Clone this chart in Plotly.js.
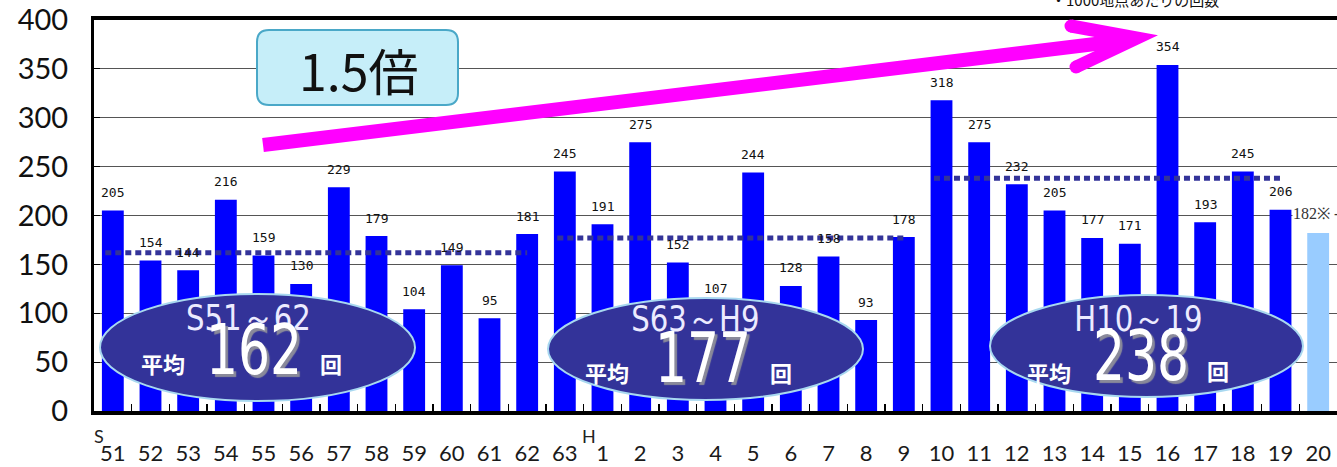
<!DOCTYPE html>
<html>
<head>
<meta charset="utf-8">
<script src="https://cdn.plot.ly/plotly-3.0.1.min.js"></script>
<style>html,body{margin:0;padding:0;background:#fff;} #chart{width:1337px;height:467px;}</style>
</head>
<body>
<div id="chart"></div>
<script>
// ---- data ----
const categories = ['S51','S52','S53','S54','S55','S56','S57','S58','S59','S60','S61','S62','S63',
  'H1','H2','H3','H4','H5','H6','H7','H8','H9','H10','H11','H12','H13','H14','H15','H16','H17','H18','H19','H20'];
const tickLabels = ['51','52','53','54','55','56','57','58','59','60','61','62','63',
  '1','2','3','4','5','6','7','8','9','10','11','12','13','14','15','16','17','18','19','20'];
const counts = [205,154,144,216,159,130,229,179,104,149,95,181,245,
  191,275,152,107,244,128,158,93,178,318,275,232,205,177,171,354,193,245,206,182];
const provisional = ['H20'];
const periodNames = ['S51～62','S63～H9','H10～19'];
const periodStart = ['S51','S63','H10'];
const periodEnd = ['S62','H9','H19'];
const periodAverages = [162,177,238];
const eraMarks = [['S','S51'],['H','H1']];
const growthText = '1.5倍';
const noteText = '・1000地点あたりの回数';

// ---- geometry helpers (pixel -> paper) ----
const L = 94, T = 20, PW = 1243, PH = 391;
const px = x => (x - L) / PW;
const py = y => (T + PH - y) / PH;
const idx = c => categories.indexOf(c);

const barColors = categories.map(c => provisional.includes(c) ? '#99ccff' : '#0000ff');

const trace = {
  type: 'bar', x: categories, y: counts,
  marker: {color: barColors, line: {width: 0}},
  hoverinfo: 'skip'
};

const shapes = [];
const annotations = [];
const ann = o => annotations.push(Object.assign({showarrow: false, xanchor: 'center', yanchor: 'middle'}, o));

// value labels
categories.forEach((c, i) => {
  const prov = provisional.includes(c);
  ann({
    x: c, y: counts[i], xref: 'x', yref: 'y',
    text: prov ? counts[i] + '※ -' : String(counts[i]),
    yshift: prov ? 20 : 18, xshift: prov ? -2 : 0,
    bgcolor: prov ? '#ffffff' : 'rgba(0,0,0,0)',
    borderpad: 0,
    font: prov ? {family: 'Liberation Serif, serif', size: 16, color: '#333'}
               : {family: 'DejaVu Sans Mono, monospace', size: 13, color: '#111'}
  });
});

// average dotted lines
periodAverages.forEach((v, k) => {
  shapes.push({
    type: 'line', xref: 'x', yref: 'y', layer: 'above',
    x0: idx(periodStart[k]) - 0.2, x1: idx(periodEnd[k]), y0: v, y1: v,
    line: {color: '#333399', width: 5, dash: '6px,4px'}
  });
});

// ellipses with period averages
const narrow = 'Liberation Sans Narrow, DejaVu Sans Condensed, Roboto, sans-serif';
const ell = [
  {x0: 100, x1: 415, y0: 294, y1: 401, title: [248, 317], hei: [163, 363], num: [254, 350], kai: [331, 363]},
  {x0: 548, x1: 863, y0: 298, y1: 400, title: [695, 318], hei: [607, 372], num: [703, 358], kai: [781, 372]},
  {x0: 990, x1: 1303, y0: 295, y1: 397, title: [1138, 318], hei: [1049, 372], num: [1141, 356], kai: [1218, 370]}
];
ell.forEach((e, k) => {
  shapes.push({
    type: 'circle', xref: 'paper', yref: 'paper', layer: 'above',
    x0: px(e.x0), x1: px(e.x1), y0: py(e.y1), y1: py(e.y0),
    fillcolor: '#333399', line: {color: '#a8d8f0', width: 2}
  });
  ann({xref: 'paper', yref: 'paper', x: px(e.title[0]), y: py(e.title[1]),
    text: periodNames[k], font: {family: narrow, size: 36, color: '#ecebff'}});
  ann({xref: 'paper', yref: 'paper', x: px(e.hei[0]), y: py(e.hei[1]),
    text: '平均', font: {family: 'Noto Sans CJK JP, sans-serif', size: 22, color: '#ffffff', weight: 700}});
  ann({xref: 'paper', yref: 'paper', x: px(e.num[0]), y: py(e.num[1]),
    text: String(periodAverages[k]),
    font: {family: narrow, size: 70, color: '#ffffff', shadow: '3px 3px 1px #8a8a9a'}});
  ann({xref: 'paper', yref: 'paper', x: px(e.kai[0]), y: py(e.kai[1]),
    text: '回', font: {family: 'Noto Sans CJK JP, sans-serif', size: 22, color: '#ffffff', weight: 700}});
});

// "1.5倍" rounded box
(function () {
  const x0 = 257, x1 = 458, y0 = 30, y1 = 105, r = 12;
  const P = (x, y) => px(x) + ',' + py(y);
  const path = 'M' + P(x0 + r, y0) + ' L' + P(x1 - r, y0) + ' Q' + P(x1, y0) + ' ' + P(x1, y0 + r) +
    ' L' + P(x1, y1 - r) + ' Q' + P(x1, y1) + ' ' + P(x1 - r, y1) +
    ' L' + P(x0 + r, y1) + ' Q' + P(x0, y1) + ' ' + P(x0, y1 - r) +
    ' L' + P(x0, y0 + r) + ' Q' + P(x0, y0) + ' ' + P(x0 + r, y0) + ' Z';
  shapes.push({type: 'path', xref: 'paper', yref: 'paper', path: path, layer: 'above',
    fillcolor: '#c6eef9', line: {color: '#4aa8c8', width: 2}});
  ann({xref: 'paper', yref: 'paper', x: px(358), y: py(69), text: growthText,
    font: {family: 'Noto Sans CJK JP, sans-serif', size: 50, color: '#111'}});
})();

// magenta arrow
shapes.push({type: 'line', xref: 'paper', yref: 'paper', layer: 'above',
  x0: px(263), y0: py(145), x1: px(1128), y1: py(40),
  line: {color: '#ff00ff', width: 14}});
shapes.push({type: 'path', xref: 'paper', yref: 'paper', layer: 'above',
  path: 'M' + px(1071) + ',' + py(26) + ' L' + px(1137) + ',' + py(38) + ' L' + px(1076) + ',' + py(67),
  fillcolor: 'rgba(0,0,0,0)', line: {color: '#ff00ff', width: 13}});
[[1071, 26], [1076, 67]].forEach(p => shapes.push({
  type: 'circle', xref: 'paper', yref: 'paper', layer: 'above',
  xsizemode: 'pixel', ysizemode: 'pixel', xanchor: px(p[0]), yanchor: py(p[1]),
  x0: -6.5, x1: 6.5, y0: -6.5, y1: 6.5, fillcolor: '#ff00ff', line: {width: 0}
}));

// era marks S / H
eraMarks.forEach(m => ann({
  xref: 'x', yref: 'paper', x: m[1], y: py(436), xshift: -14, text: m[0],
  font: {family: 'Lato, sans-serif', size: 18, color: '#222'}
}));

// note text at top (cut off)
ann({xref: 'paper', yref: 'paper', x: px(1135), y: py(-1),
  text: noteText, font: {family: 'Noto Sans CJK JP, serif', size: 15, color: '#111'}});

const layout = {
  width: 1337, height: 467,
  margin: {l: L, r: 1337 - L - PW, t: T, b: 467 - T - PH, pad: 0},
  paper_bgcolor: '#ffffff', plot_bgcolor: '#ffffff',
  showlegend: false,
  bargap: 0.42,
  xaxis: {
    type: 'category', range: [-0.5, 32.5], fixedrange: true,
    tickmode: 'array', tickvals: categories, ticktext: tickLabels,
    ticks: 'inside', tickson: 'boundaries', ticklen: 7, tickwidth: 1.5, tickcolor: '#000',
    showline: true, linecolor: '#000', linewidth: 4, mirror: true,
    showgrid: false, zeroline: false,
    ticklabelstandoff: 20,
    tickfont: {family: 'Lato, sans-serif', size: 22, color: '#1a1a1a'}
  },
  yaxis: {
    range: [0, 400], dtick: 50, tick0: 0, fixedrange: true,
    showgrid: true, gridcolor: '#555', gridwidth: 1,
    ticks: 'inside', ticklen: 6, tickcolor: '#000',
    showline: true, linecolor: '#000', linewidth: 3,
    zeroline: false,
    ticklabelstandoff: 17,
    tickfont: {family: 'Lato, sans-serif', size: 29, color: '#111'}
  },
  shapes: shapes,
  annotations: annotations
};

// condense the ellipse texts horizontally (the original uses a narrow face)
const condense = {};
periodAverages.forEach(v => { condense[String(v)] = 0.8; });
periodNames.forEach(n => { condense[n] = 0.9; });

Plotly.newPlot('chart', [trace], layout, {displayModeBar: false, staticPlot: true}).then(gd => {
  gd.querySelectorAll('text.annotation-text').forEach(t => {
    const k = condense[t.textContent];
    if (k && t.closest('.annotation')) {
      const inEllipse = periodAverages.map(String).includes(t.textContent) ? t.getAttribute('style') && t.style.fontSize && parseFloat(t.style.fontSize) > 40 : true;
      if (!inEllipse) return;
      t.style.transformBox = 'fill-box';
      t.style.transformOrigin = 'center';
      t.style.transform = 'scaleX(' + k + ')';
    }
  });
});
</script>
</body>
</html>
